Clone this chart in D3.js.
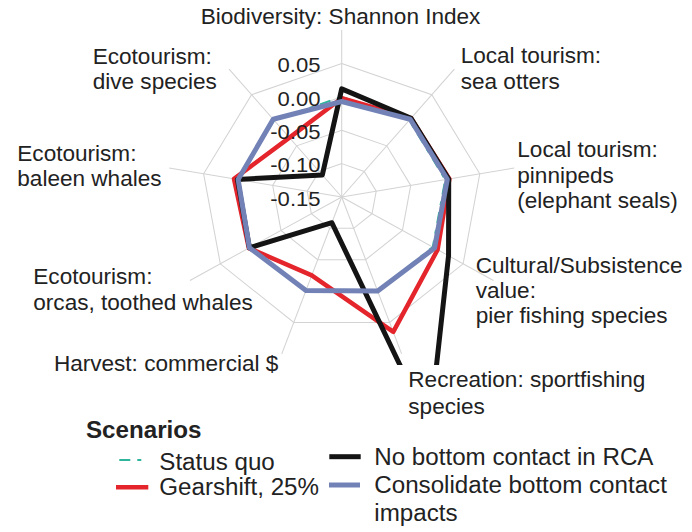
<!DOCTYPE html>
<html lang="en">
<head>
  <meta charset="utf-8">
  <title>Scenarios radar</title>
  <script src="https://d3js.org/d3.v7.min.js"></script>
  <style>
    body { margin: 0; background: #fff; }
    svg text { font-family: "Liberation Sans", Arial, sans-serif; fill: #222; }
  </style>
</head>
<body>
  <div id="chart"></div>
  <script>
    "use strict"

    // axes, clockwise from the top
    var axes = [
      ["Biodiversity: Shannon Index"],
      ["Local tourism:", "sea otters"],
      ["Local tourism:", "pinnipeds", "(elephant seals)"],
      ["Cultural/Subsistence", "value:", "pier fishing species"],
      ["Recreation: sportfishing", "species"],
      ["Harvest: commercial $"],
      ["Ecotourism:", "orcas, toothed whales"],
      ["Ecotourism:", "baleen whales"],
      ["Ecotourism:", "dive species"]
    ];

    var scenarios = ["Status quo", "Gearshift, 25%", "No bottom contact in RCA", "Consolidate bottom contact impacts"];

    var statusQuo   = [0, 0, 0, 0, 0, 0, 0, 0, 0];
    var gearshift   = [-0.002, 0.004, 0.006, 0.008, 0.065, -0.025, 0.003, 0.006, -0.034];
    var noBottom    = [0.012, 0.004, 0.005, 0.026, 0.217, -0.109, 0.002, 0.001, -0.107];
    var consolidate = [-0.007, 0.002, 0.003, 0.003, 0.000, -0.001, 0.002, 0.000, 0.002];

    var ticks = [-0.15, -0.10, -0.05, 0.00, 0.05];

    var largura = 692, altura = 532;
    var cx = 341.7, cy = 197, SX = 1.05;   // a figura original esta um pouco esticada na horizontal
    var fx = X => (X - cx) / SX, fy = Y => Y - cy;

    var svg = d3.select('#chart').append('svg')
        .attr('width', largura).attr('height', altura);

    var defs = svg.append('defs');
    defs.append('clipPath').attr('id', 'area')
      .append('rect')
        .attr('x', fx(0)).attr('y', fy(0))
        .attr('width', largura / SX).attr('height', 365);

    var g = svg.append('g')
        .attr('transform', 'translate(' + cx + ',' + cy + ') scale(' + SX + ',1)');

    var r = d3.scaleLinear().domain([-0.15, 0.10]).range([0, 166.9]);
    var ang = d3.scaleLinear().domain([0, axes.length]).range([0, 2 * Math.PI]);

    var ponto = (v, i) => [r(v) * Math.sin(ang(i)), -r(v) * Math.cos(ang(i))];

    // grade
    g.selectAll('.anel')
      .data(ticks.slice(1))
      .enter().append('polygon')
        .attr('points', t => axes.map((a, i) => ponto(t, i).join(',')).join(' '))
        .attr('fill', 'none').attr('stroke', '#d3d3d3').attr('stroke-width', 1);

    g.selectAll('.raio')
      .data(axes)
      .enter().append('line')
        .attr('x1', 0).attr('y1', 0)
        .attr('x2', (a, i) => ponto(0.10, i)[0])
        .attr('y2', (a, i) => ponto(0.10, i)[1])
        .attr('stroke', '#d3d3d3').attr('stroke-width', 1);

    // linhas das series
    var series = [
      {valores: statusQuo,   cor: '#2fb59c', largura: 2,   traco: '11 7 4 7'},
      {valores: gearshift,   cor: '#e4252b', largura: 4.5, traco: null},
      {valores: noBottom,    cor: '#141414', largura: 5,   traco: null},
      {valores: consolidate, cor: '#7282b6', largura: 5,   traco: null}
    ];

    var linha = d3.lineRadial()
        .angle((d, i) => ang(i))
        .radius(d => r(d))
        .curve(d3.curveLinearClosed);

    var camada = g.append('g').attr('clip-path', 'url(#area)');
    camada.selectAll('path')
      .data(series)
      .enter().append('path')
        .attr('d', s => linha(s.valores))
        .attr('fill', 'none')
        .attr('stroke', s => s.cor)
        .attr('stroke-width', s => s.largura)
        .attr('stroke-dasharray', s => s.traco)
        .attr('stroke-linejoin', 'round')
        .attr('vector-effect', 'non-scaling-stroke');

    // rotulos do eixo radial
    g.selectAll('.tick')
      .data(ticks)
      .enter().append('text')
        .attr('x', fx(320.5))
        .attr('y', t => -r(t) + 1.5)
        .attr('dy', '0.35em')
        .attr('text-anchor', 'end')
        .style('font-size', '21px')
        .text(t => d3.format('.2f')(t).replace('\u2212', '-'));

    // rotulos das categorias (posicao do texto em pixels da figura)
    var posRotulo = [
      {x: 200.7, y: 16.7,  dl: 25,   anc: 'start'},
      {x: 460.7, y: 55,    dl: 26.5, anc: 'start'},
      {x: 517.3, y: 149.3, dl: 25.8, anc: 'start'},
      {x: 475.7, y: 265,   dl: 25,   anc: 'start'},
      {x: 408.3, y: 379.3, dl: 27,   anc: 'start'},
      {x: 278.3, y: 363.3, dl: 25,   anc: 'end'},
      {x: 33.3,  y: 276.7, dl: 26,   anc: 'start'},
      {x: 17.3,  y: 153,   dl: 25,   anc: 'start'},
      {x: 92.7,  y: 56.7,  dl: 25,   anc: 'start'}
    ];

    axes.forEach(function(linhas, i) {
      var p = posRotulo[i];
      var t = g.append('text')
          .attr('text-anchor', p.anc)
          .style('font-size', '21.5px');
      linhas.forEach(function(l, k) {
        t.append('tspan')
          .attr('x', fx(p.x))
          .attr('y', fy(p.y + k * p.dl))
          .attr('dy', '0.35em')
          .text(l);
      });
    });

    // legenda
    var leg = g.append('g');
    leg.append('text')
      .attr('x', fx(86)).attr('y', fy(430)).attr('dy', '0.35em')
      .style('font-size', '23px').style('font-weight', 'bold')
      .text('Scenarios');

    var posLeg = [
      {x1: 119.3, x2: 141.7, ly: 460,   tx: 159.3, ty: [461.7]},
      {x1: 116,   x2: 148.3, ly: 487.3, tx: 159.3, ty: [487]},
      {x1: 329.3, x2: 360.7, ly: 456.7, tx: 374.3, ty: [457.3]},
      {x1: 329,   x2: 360,   ly: 485,   tx: 374.3, ty: [485, 513]}
    ];
    var textoLeg = [["Status quo"], ["Gearshift, 25%"], ["No bottom contact in RCA"], ["Consolidate bottom contact", "impacts"]];

    series.forEach(function(s, i) {
      var p = posLeg[i];
      leg.append('line')
        .attr('x1', fx(p.x1)).attr('x2', fx(p.x2))
        .attr('y1', fy(p.ly)).attr('y2', fy(p.ly))
        .attr('stroke', s.cor)
        .attr('stroke-width', s.largura)
        .attr('stroke-dasharray', s.traco)
        .attr('vector-effect', 'non-scaling-stroke');
      var t = leg.append('text').style('font-size', '23px');
      textoLeg[i].forEach(function(l, k) {
        t.append('tspan')
          .attr('x', fx(p.tx)).attr('y', fy(p.ty[k])).attr('dy', '0.35em')
          .text(l);
      });
    });
  </script>
</body>
</html>
